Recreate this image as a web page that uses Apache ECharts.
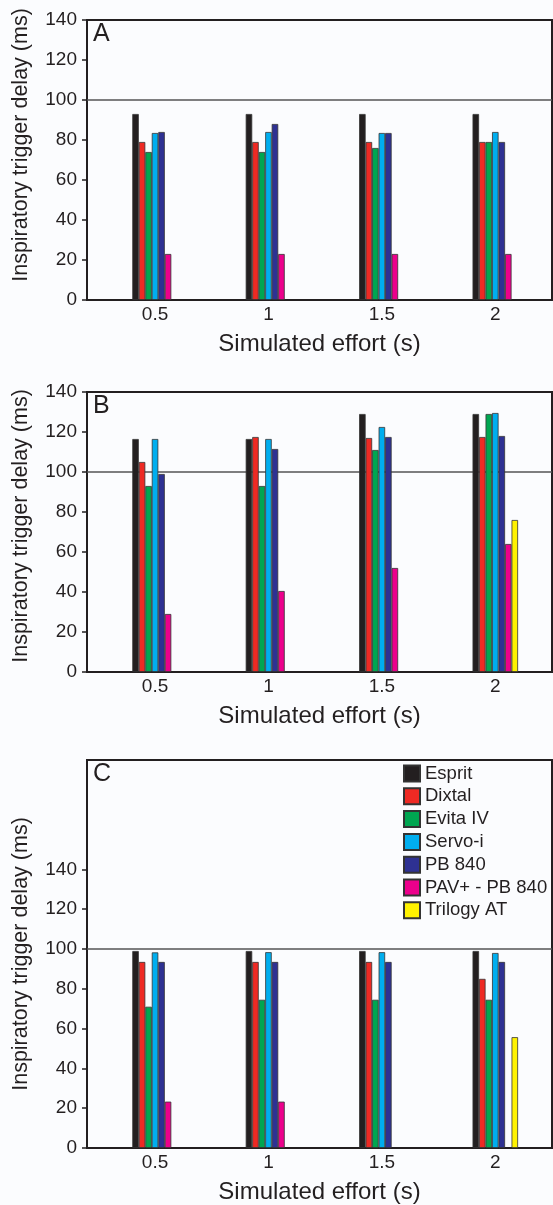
<!DOCTYPE html>
<html>
<head>
<meta charset="utf-8">
<title>Inspiratory trigger delay</title>
<script src="https://cdn.jsdelivr.net/npm/echarts@6/dist/echarts.min.js"></script>
<style>
  html, body { margin: 0; padding: 0; background: #fbfcfe; }
  #chart { width: 553px; height: 1205px; }
</style>
</head>
<body>
<div id="chart"></div>
<script>
// x categories (simulated effort, s) and y tick labels
var effort = [0.5, 1, 1.5, 2];
var yTicks = [0, 20, 40, 60, 80, 100, 120, 140];
var devices = ["Esprit", "Dixtal", "Evita IV", "Servo-i", "PB 840", "PAV+ - PB 840", "Trilogy AT"];
var colors = ["#231f20", "#ee2a24", "#00a651", "#00aeef", "#2e3192", "#ec008c", "#fff200"];

// panel A
var espritA = [93, 93, 93, 93];
var dixtalA = [79, 79, 79, 79];
var evitaA = [74, 74, 76, 79];
var servoA = [83.5, 84, 83.5, 84];
var pb840A = [84, 88, 83.5, 79];
var pavA = [23, 23, 23, 23];
var trilogyA = [null, null, null, null];

// panel B
var espritB = [116.5, 116.5, 129, 129];
var dixtalB = [105, 117.5, 117, 117.5];
var evitaB = [93, 93, 111, 129];
var servoB = [116.5, 116.5, 122.5, 129.5];
var pb840B = [99, 111.5, 117.5, 118];
var pavB = [29, 40.5, 52, 64];
var trilogyB = [null, null, null, 76];

// panel C
var espritC = [99, 99, 99, 99];
var dixtalC = [93.5, 93.5, 93.5, 85];
var evitaC = [71, 74.5, 74.5, 74.5];
var servoC = [98.3, 98.4, 98.4, 98];
var pb840C = [93.5, 93.5, 93.5, 93.5];
var pavC = [23.3, 23.3, null, null];
var trilogyC = [null, null, null, 55.7];

var panels = [
  { letter: "A", top: 20, height: 280, max: 140, nameShift: 30,
    data: [espritA, dixtalA, evitaA, servoA, pb840A, pavA, trilogyA] },
  { letter: "B", top: 392, height: 280, max: 140, nameShift: 12,
    data: [espritB, dixtalB, evitaB, servoB, pb840B, pavB, trilogyB] },
  { letter: "C", top: 760, height: 390, max: 195, nameShift: 0,
    data: [espritC, dixtalC, evitaC, servoC, pb840C, pavC, trilogyC] }
];

var font = "Liberation Sans, Arial, sans-serif";
var ink = "#231f20";

var grids = [], xAxes = [], yAxes = [], titles = [], series = [];

panels.forEach(function (p, i) {
  grids.push({
    left: 87, right: 1, top: p.top, height: p.height,
    show: true, borderColor: ink, borderWidth: 2, backgroundColor: "transparent"
  });
  titles.push({
    text: p.letter, left: 93, top: p.top + 2, padding: 0,
    textStyle: { fontFamily: font, fontSize: 25, fontWeight: "normal", color: ink }
  });
  xAxes.push({
    gridIndex: i, type: "value", min: 0.2, max: 2.25,
    name: "Simulated effort (s)", nameLocation: "middle", nameGap: 32,
    nameTextStyle: { fontFamily: font, fontSize: 24, color: ink },
    axisLine: { show: true, lineStyle: { color: ink, width: 2 } },
    axisTick: { show: false },
    splitLine: { show: false },
    axisLabel: {
      customValues: effort, margin: 5,
      fontFamily: font, fontSize: 19, color: ink
    }
  });
  yAxes.push({
    gridIndex: i, type: "value", min: 0, max: p.max, interval: 20,
    name: "Inspiratory trigger delay (ms)", nameLocation: "middle", nameGap: 55,
    nameTextStyle: {
      fontFamily: font, fontSize: 21.5, color: ink,
      padding: [0, 0, 0, p.nameShift]
    },
    axisLine: { show: true, lineStyle: { color: ink, width: 2 } },
    axisTick: { show: true, customValues: yTicks, length: 5, lineStyle: { color: ink, width: 1.5 } },
    splitLine: { show: false },
    axisLabel: {
      customValues: yTicks, margin: 10,
      fontFamily: font, fontSize: 19, color: ink
    }
  });
  p.data.forEach(function (vals, k) {
    var s = {
      name: devices[k],
      type: "bar",
      xAxisIndex: i, yAxisIndex: i,
      barWidth: 6.5,
      barGap: "0%",
      z: 3,
      itemStyle: { color: colors[k], borderColor: "#333", borderWidth: 0.8 },
      data: effort.map(function (x, j) { return [x, vals[j]]; })
    };
    if (k === 0) {
      // reference line at 100 ms
      s.markLine = {
        silent: true, symbol: "none", z: 1,
        label: { show: false },
        lineStyle: { color: "#555", width: 1.5, type: "solid" },
        data: [{ yAxis: 100 }]
      };
    }
    series.push(s);
  });
});

var myChart = echarts.init(document.getElementById("chart"));
myChart.setOption({
  backgroundColor: "#fbfcfe",
  animation: false,
  title: titles,
  legend: {
    data: devices,
    orient: "vertical",
    left: 403, top: 764,
    padding: 0,
    itemWidth: 16, itemHeight: 16, itemGap: 3.8,
    icon: "rect",
    textStyle: { fontFamily: font, fontSize: 18.5, color: ink }
  },
  grid: grids,
  xAxis: xAxes,
  yAxis: yAxes,
  series: series
});
</script>
</body>
</html>
